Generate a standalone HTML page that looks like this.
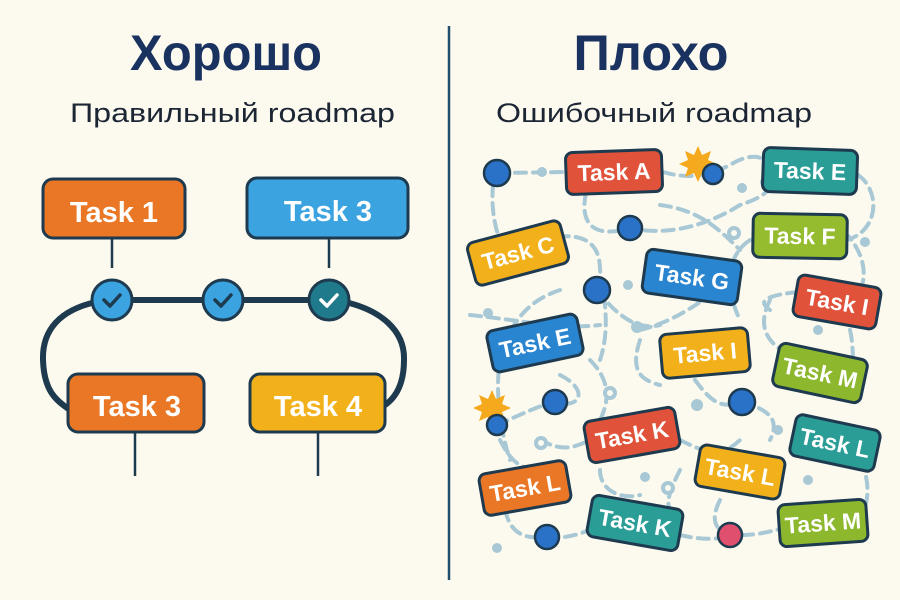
<!DOCTYPE html>
<html><head><meta charset="utf-8"><style>
html,body{margin:0;padding:0;background:#FCFAEF;}
svg{display:block;font-family:"Liberation Sans","DejaVu Sans",sans-serif;}
.t{fill:#fff;font-weight:bold;text-anchor:middle;}
.d{fill:none;stroke:#A8C8D5;stroke-width:4;stroke-dasharray:11 7;stroke-linecap:round;}
.b{stroke:#1E3A4F;stroke-width:3;}
</style></head><body>
<svg width="900" height="600" viewBox="0 0 900 600">
<rect width="900" height="600" fill="#FCFAEF"/>
<line x1="449" y1="26" x2="449" y2="580" stroke="#1F4E6E" stroke-width="2.5"/>
<text x="226" y="70" font-size="50" font-weight="bold" fill="#1A3260" text-anchor="middle" textLength="192" lengthAdjust="spacingAndGlyphs">Хорошо</text>
<text x="70" y="122" font-size="27" fill="#1B2533" textLength="325" lengthAdjust="spacingAndGlyphs">Правильный roadmap</text>
<text x="651" y="70" font-size="50" font-weight="bold" fill="#1A3260" text-anchor="middle" textLength="155" lengthAdjust="spacingAndGlyphs">Плохо</text>
<text x="496" y="122" font-size="27" fill="#1B2533" textLength="316" lengthAdjust="spacingAndGlyphs">Ошибочный roadmap</text>

<!-- left -->
<g stroke="#1E3A4F" stroke-width="6" fill="none">
<line x1="112" y1="300" x2="329" y2="300"/>
<path d="M96 302 C60 310 42 330 43 360 C44 390 55 400 70 410"/>
<path d="M345 302 C380 310 405 330 404 360 C404 385 395 398 385 405"/>
</g>
<g stroke="#1E3A4F" stroke-width="2.5">
<line x1="112" y1="238" x2="112" y2="268"/><line x1="329" y1="238" x2="329" y2="268"/>
<line x1="135" y1="432" x2="135" y2="476"/><line x1="318" y1="432" x2="318" y2="476"/>
</g>
<rect x="43" y="179" width="142" height="59" rx="10" fill="#E97726" class="b"/>
<text x="114" y="222" font-size="29" class="t">Task 1</text>
<rect x="247" y="178" width="161" height="60" rx="10" fill="#3AA3E0" class="b"/>
<text x="328" y="221" font-size="29" class="t">Task 3</text>
<rect x="68" y="374" width="136" height="58" rx="10" fill="#E97726" class="b"/>
<text x="137" y="416" font-size="29" class="t">Task 3</text>
<rect x="250" y="374" width="135" height="58" rx="10" fill="#F2B11A" class="b"/>
<text x="318" y="416" font-size="29" class="t">Task 4</text>
<g stroke="#1E3A4F" stroke-width="3">
<circle cx="112" cy="300" r="20" fill="#3AA3E0"/>
<circle cx="223" cy="300" r="20" fill="#3AA3E0"/>
<circle cx="329" cy="300" r="20" fill="#1F7A8C"/>
</g>
<g fill="none" stroke-width="3.5" stroke-linecap="round" stroke-linejoin="round">
<path d="M104 300 l6 6 l10 -11" stroke="#1E3A4F"/>
<path d="M215 300 l6 6 l10 -11" stroke="#1E3A4F"/>
<path d="M321 300 l6 6 l10 -11" stroke="#fff"/>
</g>

<!-- right dashed mess -->
<g class="d">
<path d="M497 173 L566 172"/>
<path d="M663 172 C690 180 710 175 730 165 C745 155 760 155 763 160"/>
<path d="M858 175 C880 190 880 230 847 240"/>
<path d="M493 185 C490 220 500 240 505 255"/>
<path d="M586 193 C580 220 590 240 630 228 C660 235 700 230 740 205 C770 195 780 185 760 165"/>
<path d="M540 240 C580 230 600 240 600 270 C605 300 610 330 600 360"/>
<path d="M560 290 C530 300 510 320 500 360 C495 390 500 430 510 460"/>
<path d="M660 205 C700 210 720 230 740 250"/>
<path d="M750 240 C720 260 730 300 740 320"/>
<path d="M597 290 C620 320 640 330 660 325"/>
<path d="M470 315 C520 320 560 330 600 325"/>
<path d="M640 330 C680 320 700 300 720 290"/>
<path d="M640 340 C630 370 640 380 660 385"/>
<path d="M770 300 C760 320 760 340 790 355"/>
<path d="M798 292 C770 295 755 300 770 310"/>
<path d="M850 330 C855 350 850 370 860 395"/>
<path d="M590 360 C610 380 610 400 600 420"/>
<path d="M560 375 C590 390 580 410 555 402"/>
<path d="M497 425 C520 415 540 405 555 402"/>
<path d="M500 440 C510 460 520 470 540 470"/>
<path d="M540 440 C560 450 570 450 590 440"/>
<path d="M695 380 C710 400 720 410 742 402"/>
<path d="M742 402 C770 410 780 420 770 440"/>
<path d="M680 440 C700 450 720 460 740 440"/>
<path d="M680 470 C670 490 660 510 680 520"/>
<path d="M860 460 C870 480 870 500 860 520"/>
<path d="M600 470 C600 490 620 500 640 495"/>
<path d="M505 510 C510 530 520 540 547 537"/>
<path d="M547 537 C570 540 590 530 600 525"/>
<path d="M680 535 C700 540 720 540 730 535"/>
<path d="M742 535 C760 535 775 530 785 528"/>
<path d="M720 500 C710 520 715 530 730 535"/>
<path d="M830 220 C860 240 870 270 860 290"/>
</g>
<g fill="#A8C8D5">
<circle cx="542" cy="172" r="5"/><circle cx="742" cy="188" r="5"/><circle cx="765" cy="182" r="5"/>
<circle cx="865" cy="242" r="5"/><circle cx="488" cy="313" r="5"/><circle cx="628" cy="285" r="5"/>
<circle cx="637" cy="327" r="6"/><circle cx="608" cy="437" r="5"/><circle cx="645" cy="477" r="5"/>
<circle cx="497" cy="548" r="5"/><circle cx="808" cy="480" r="5"/><circle cx="818" cy="330" r="5"/>
<circle cx="697" cy="405" r="6"/><circle cx="778" cy="430" r="5"/><circle cx="750" cy="470" r="5"/>
</g>
<g fill="#FCFAEF" stroke="#A8C8D5" stroke-width="4">
<circle cx="734" cy="233" r="5"/><circle cx="610" cy="393" r="5"/><circle cx="541" cy="443" r="5"/><circle cx="668" cy="488" r="5"/>
</g>

<!-- stars -->
<g fill="#F5A91C">
<path d="M698 146 l4 9 9 -4 -3 9 9 4 -9 4 3 9 -9 -4 -4 9 -4 -9 -9 4 3 -9 -9 -4 9 -4 -3 -9 9 4z"/>
<path d="M492 390 l4 9 9 -4 -3 9 9 4 -9 4 3 9 -9 -4 -4 9 -4 -9 -9 4 3 -9 -9 -4 9 -4 -3 -9 9 4z"/>
</g>
<!-- dots -->
<g stroke="#1E3A4F" stroke-width="2.5" fill="#2A72C8">
<circle cx="497" cy="173" r="13"/><circle cx="713" cy="174" r="10"/><circle cx="630" cy="228" r="12"/>
<circle cx="597" cy="290" r="13"/><circle cx="555" cy="402" r="12"/><circle cx="742" cy="402" r="13"/>
<circle cx="497" cy="425" r="10"/><circle cx="547" cy="537" r="12"/>
<circle cx="730" cy="535" r="12" fill="#E04F6E"/>
</g>

<!-- tasks -->
<g font-size="23">
<g transform="translate(614,172) rotate(-2)"><rect x="-48" y="-21" width="96" height="42" rx="7" fill="#E0533A" class="b"/><text y="8" class="t">Task A</text></g>
<g transform="translate(810,171) rotate(2)"><rect x="-47" y="-22" width="94" height="44" rx="7" fill="#2A9D96" class="b"/><text y="8" class="t">Task E</text></g>
<g transform="translate(800,236) rotate(1)"><rect x="-47" y="-22" width="94" height="44" rx="7" fill="#94BC2E" class="b"/><text y="8" class="t">Task F</text></g>
<g transform="translate(518,253) rotate(-15)"><rect x="-48" y="-22" width="96" height="44" rx="7" fill="#F2B11A" class="b"/><text y="8" class="t">Task C</text></g>
<g transform="translate(692,277) rotate(8)"><rect x="-48" y="-22" width="96" height="44" rx="7" fill="#2A85D0" class="b"/><text y="8" class="t">Task G</text></g>
<g transform="translate(837,302) rotate(10)"><rect x="-42" y="-21" width="84" height="42" rx="7" fill="#E0533A" class="b"/><text y="8" class="t">Task I</text></g>
<g transform="translate(535,343) rotate(-12)"><rect x="-46" y="-21" width="92" height="42" rx="7" fill="#2A85D0" class="b"/><text y="8" class="t">Task E</text></g>
<g transform="translate(705,353) rotate(-5)"><rect x="-44" y="-22" width="88" height="44" rx="7" fill="#F2B11A" class="b"/><text y="8" class="t">Task I</text></g>
<g transform="translate(820,373) rotate(12)"><rect x="-45" y="-22" width="90" height="44" rx="7" fill="#8DB82E" class="b"/><text y="8" class="t">Task M</text></g>
<g transform="translate(632,435) rotate(-10)"><rect x="-46" y="-21" width="92" height="42" rx="7" fill="#E0533A" class="b"/><text y="8" class="t">Task K</text></g>
<g transform="translate(835,443) rotate(12)"><rect x="-43" y="-21" width="86" height="42" rx="7" fill="#2A9D96" class="b"/><text y="8" class="t">Task L</text></g>
<g transform="translate(740,472) rotate(10)"><rect x="-43" y="-21" width="86" height="42" rx="7" fill="#F2B11A" class="b"/><text y="8" class="t">Task L</text></g>
<g transform="translate(525,488) rotate(-10)"><rect x="-44" y="-21" width="88" height="42" rx="7" fill="#E97726" class="b"/><text y="8" class="t">Task L</text></g>
<g transform="translate(635,523) rotate(10)"><rect x="-46" y="-21" width="92" height="42" rx="7" fill="#2A9D96" class="b"/><text y="8" class="t">Task K</text></g>
<g transform="translate(823,523) rotate(-4)"><rect x="-44" y="-21" width="88" height="42" rx="7" fill="#8DB82E" class="b"/><text y="8" class="t">Task M</text></g>
</g>
</svg>
</body></html>
